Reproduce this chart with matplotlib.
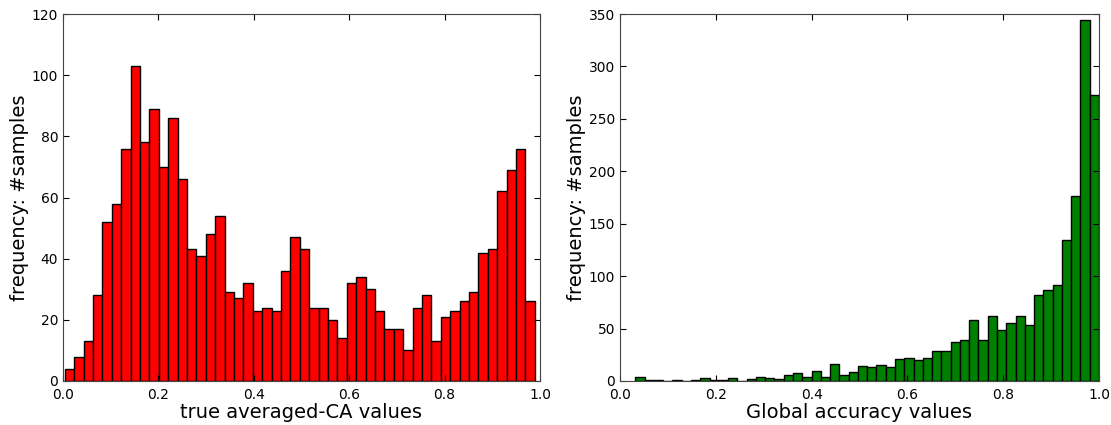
import matplotlib
matplotlib.use("Agg")
import matplotlib.pyplot as plt
import numpy as np

# bin counts (50 bins each)
ca_counts = [4, 8, 13, 28, 52, 58, 76, 103, 78, 89,
             70, 86, 66, 43, 41, 48, 54, 29, 27, 32,
             23, 24, 23, 36, 47, 43, 24, 24, 20, 14,
             32, 34, 30, 23, 17, 17, 10, 24, 28, 13,
             21, 23, 26, 29, 42, 43, 62, 69, 76, 26]
ca_range = (0.004, 0.989)

acc_counts = [4, 1, 1, 0, 1, 0, 1, 3, 1, 1,
              3, 0, 2, 4, 3, 2, 6, 8, 4, 10,
              4, 16, 6, 9, 14, 13, 15, 13, 21, 22,
              20, 22, 29, 29, 37, 39, 58, 39, 62, 49,
              55, 62, 53, 82, 87, 92, 134, 176, 344, 273]
acc_range = (0.032, 1.0)


def draw_hist(ax, counts, rng, color, xlabel, ymax, ystep):
    edges = np.linspace(rng[0], rng[1], len(counts) + 1)
    ax.bar(edges[:-1], counts, width=np.diff(edges), align='edge',
           color=color, edgecolor='black', linewidth=1)
    ax.set_xlim(0, 1)
    ax.set_ylim(0, ymax)
    ax.set_xticks(np.arange(0, 1.01, 0.2))
    ax.set_yticks(np.arange(0, ymax + 1, ystep))
    ax.tick_params(direction='in', top=True, right=True, labelsize=10, length=4)
    ax.tick_params(axis='x', pad=5)
    ax.set_xlabel(xlabel, fontsize=14, labelpad=1)
    ax.set_ylabel('frequency: #samples', fontsize=14, labelpad=2)
    for s in ax.spines.values():
        s.set_color('#444444')


fig = plt.figure(figsize=(11.11, 4.25), dpi=100)
ax1 = fig.add_axes([63 / 1111, 1 - 381 / 425, 477 / 1111, 367 / 425])
ax2 = fig.add_axes([620 / 1111, 1 - 381 / 425, 479 / 1111, 367 / 425])

draw_hist(ax1, ca_counts, ca_range, 'red', 'true averaged-CA values', 120, 20)
draw_hist(ax2, acc_counts, acc_range, 'green', 'Global accuracy values', 350, 50)

fig.savefig('out.png', dpi=100)
